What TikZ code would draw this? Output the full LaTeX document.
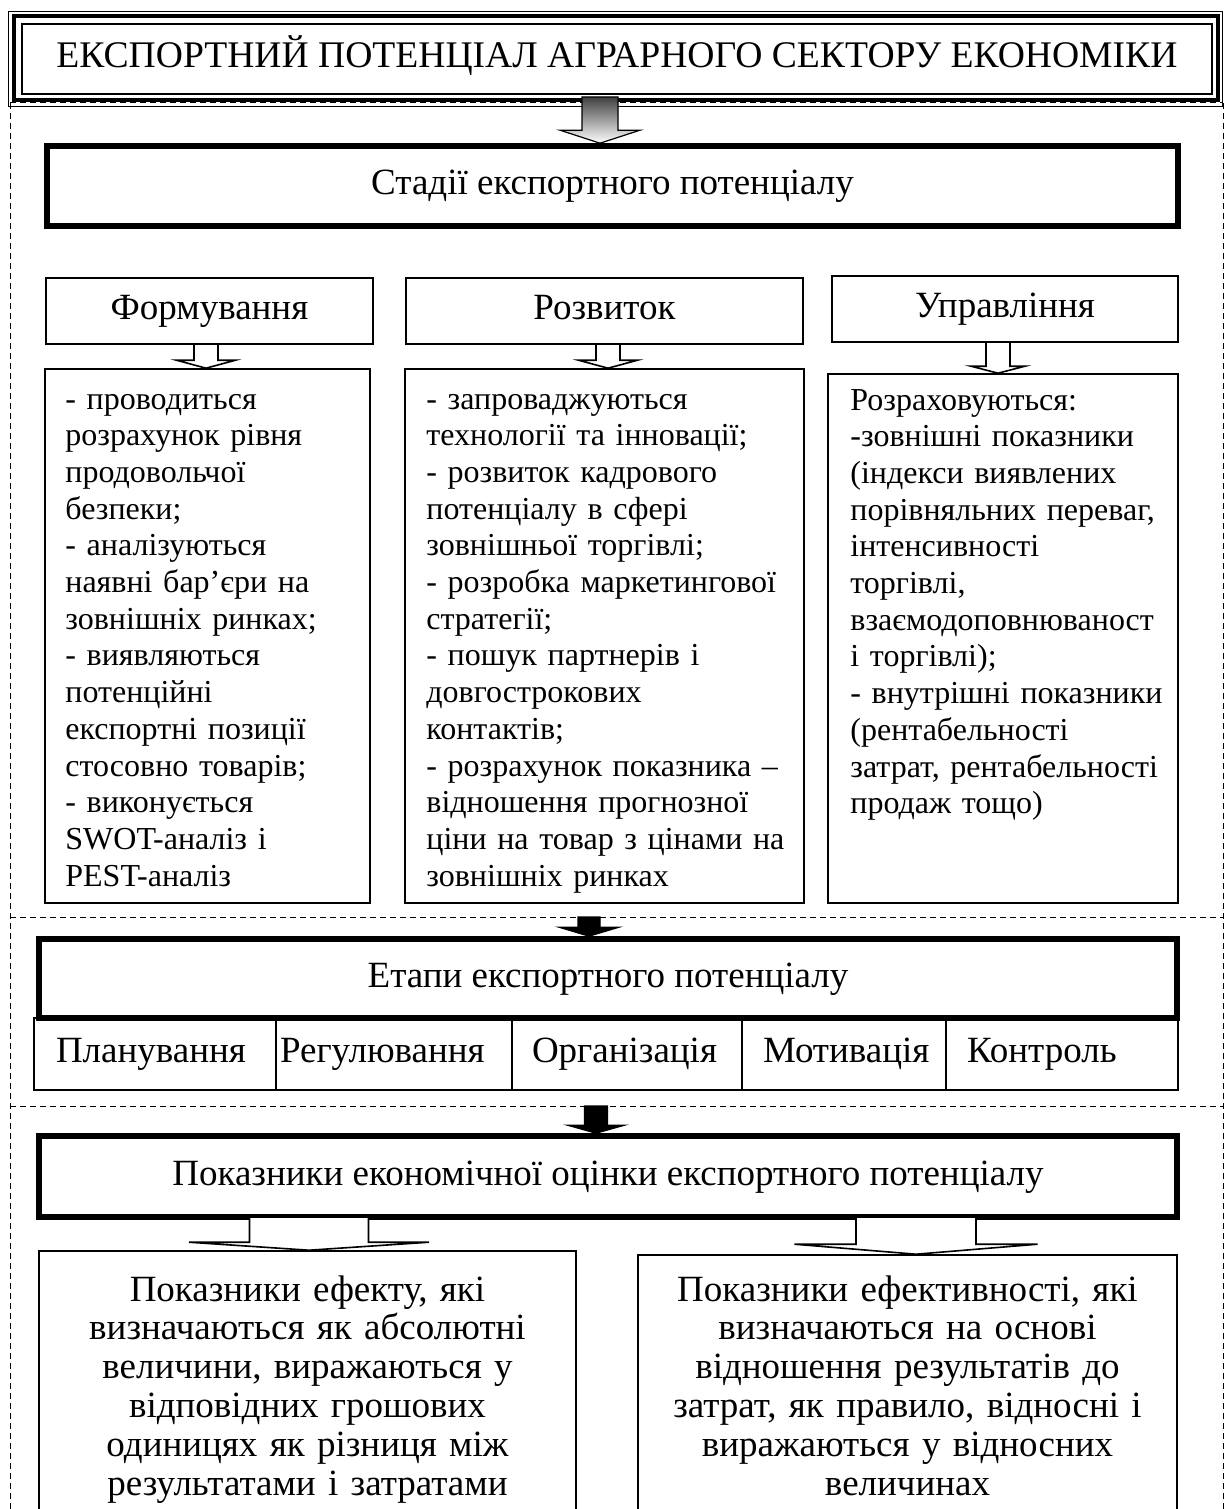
\documentclass[tikz,border=0pt]{standalone}
\usepackage{fontspec}
\setmainfont{Liberation Serif}
\usetikzlibrary{calc}
\newcommand{\bigfont}{\fontsize{18.5pt}{19.4pt}\selectfont}
\newcommand{\listfont}{\fontsize{16pt}{18.35pt}\selectfont}
% block arrow: [style]{start}{tip}{shaft half}{head half}{head length}
\newcommand{\blockarrow}[6][]{%
  \path[#1] let \p1=(#2), \p2=(#3) in
    (\x2-#4,\y1) -- (\x2-#4,\y2+#6) -- (\x2-#5,\y2+#6) -- (\x2,\y2)
    -- (\x2+#5,\y2+#6) -- (\x2+#4,\y2+#6) -- (\x2+#4,\y1) -- cycle;}
\tikzset{
  thinbox/.style={draw, line width=0.8pt, inner sep=0pt, font=\bigfont, text height=12.6pt, text depth=4.1pt},
  thickbox/.style={draw, line width=2.8pt, inner sep=0pt, font=\bigfont, text height=12.6pt, text depth=4.1pt},
  listbox/.style={draw, line width=0.8pt, inner sep=0pt},
  listtext/.style={anchor=base west, align=left, text width=200pt, inner sep=0pt, font=\listfont},
  bottomtext/.style={anchor=base, align=center, text width=268pt, inner sep=0pt, font=\bigfont},
  cellbox/.style={draw, line width=0.7pt, align=left, minimum height=36pt, inner ysep=0pt, font=\bigfont},
  dashframe/.style={line width=0.5pt, dash pattern=on 3pt off 2pt},
  shadearrow/.style={draw, line width=0.6pt, top color=black!75, bottom color=white},
  hollowarrow/.style={draw, fill=white, line width=0.8pt},
  solidarrow/.style={draw, fill=black, line width=0.6pt}
}
\begin{document}
\begin{tikzpicture}[x=0.5pt,y=-0.5pt]
\useasboundingbox (0,0) rectangle (1228,1509);
\clip (0,0) rectangle (1228,1509);

% title with triple frame
\node[draw, line width=0.6pt, minimum width=595pt, minimum height=35pt, inner sep=0pt,
  font=\fontsize{18.8pt}{20pt}\selectfont, text height=12.8pt, text depth=4.2pt] (title) at (617,59)
  {ЕКСПОРТНИЙ ПОТЕНЦІАЛ АГРАРНОГО СЕКТОРУ ЕКОНОМІКИ};
\draw[line width=2pt] ($(title.north west)+(-7,-7)$) rectangle ($(title.south east)+(5,5)$);
\draw[line width=0.6pt] ($(title.north west)+(-13,-12)$) rectangle ($(title.south east)+(10,12)$);

% dashed frame
\draw[dashframe] (10,103) -- (1223,103);
\draw[dashframe] (10,103) -- (10,1600);
\draw[dashframe] (1223,103) -- (1223,1600);
\draw[dashframe] (10,917) -- (1223,917);
\draw[dashframe] (10,1106) -- (1223,1106);

% stages
\node[thickbox, minimum width=565.5pt, minimum height=40pt] (stadii) at (612.5,186) {Стадії експортного потенціалу};
\node[thinbox, minimum width=163.5pt, minimum height=33pt] (form) at (209.5,311) {Формування};
\node[thinbox, minimum width=198.5pt, minimum height=33pt] (rozv) at (604.5,311) {Розвиток};
\node[thinbox, minimum width=173pt, minimum height=33pt] (upr) at (1005,309) {Управління};

\node[listbox, minimum width=162.5pt, minimum height=267pt] (formlist) at (207.5,636) {};
\node[listbox, minimum width=199.5pt, minimum height=267pt] (rozvlist) at (604.5,636) {};
\node[listbox, minimum width=175pt, minimum height=264.5pt] (uprlist) at (1003,638.5) {};

\node[listtext] (formtext) at (65,409) {- проводиться\\
розрахунок рівня\\
продовольчої\\
безпеки;\\
- аналізуються\\
наявні бар’єри на\\
зовнішніх ринках;\\
- виявляються\\
потенційні\\
експортні позиції\\
стосовно товарів;\\
- виконується\\
SWOT-аналіз і\\
PEST-аналіз};
\node[listtext] (rozvtext) at (426,409) {- запроваджуються\\
технології та інновації;\\
- розвиток кадрового\\
потенціалу в сфері\\
зовнішньої торгівлі;\\
- розробка маркетингової\\
стратегії;\\
- пошук партнерів і\\
довгострокових\\
контактів;\\
- розрахунок показника –\\
відношення прогнозної\\
ціни на товар з цінами на\\
зовнішніх ринках};
\node[listtext] (uprtext) at (850,410) {Розраховуються:\\
-зовнішні показники\\
(індекси виявлених\\
порівняльних переваг,\\
інтенсивності\\
торгівлі,\\
взаємодоповнюваност\\
і торгівлі);\\
- внутрішні показники\\
(рентабельності\\
затрат, рентабельності\\
продаж тощо)};

% steps
\node[thickbox, minimum width=569pt, minimum height=39.5pt] (etapy) at (608,978.5) {Етапи експортного потенціалу};
\foreach \l/\r/\pad/\name/\lab in {34/276/11/plan/Планування, 276/512/2/reg/Регулювання,
    512/742/10/org/Організація, 742/946/10.5/mot/Мотивація, 946/1178/10.5/kontr/Контроль} {
  \pgfmathsetmacro\w{(\r-\l)*0.5}
  \pgfmathsetmacro\tw{\w-2*\pad}
  \node[cellbox, minimum width=\w pt, text width=\tw pt, inner xsep=\pad pt] (\name) at ({(\l+\r)/2},1054) {\lab};
}

% indicators
\node[thickbox, minimum width=569pt, minimum height=40.5pt] (pokaz) at (608,1176.5)
  {Показники економічної оцінки експортного потенціалу};
\node[listbox, minimum width=268.5pt, minimum height=200pt] (effect) at (307.5,1451) {};
\node[listbox, minimum width=269.5pt, minimum height=200pt] (effic) at (907.5,1455) {};
\node[bottomtext] (effecttext) at (307.5,1301) {Показники ефекту, які\\
визначаються як абсолютні\\
величини, виражаються у\\
відповідних грошових\\
одиницях як різниця між\\
результатами і затратами};
\node[bottomtext] (effictext) at (907.5,1301) {Показники ефективності, які\\
визначаються на основі\\
відношення результатів до\\
затрат, як правило, відносні і\\
виражаються у відносних\\
величинах};

% arrows
\coordinate (arrA) at (600,97);
\coordinate (arrF) at (206,344);
\coordinate (arrR) at (608,344);
\coordinate (arrU) at (998,342);
\coordinate (arrB) at (589,917);
\coordinate (arrC) at (596,1106);
\coordinate (arrL) at (309,1217);
\coordinate (arrE) at (916,1217);
\blockarrow[shadearrow]{arrA}{stadii.north -| arrA}{9pt}{20pt}{6.5pt}
\blockarrow[hollowarrow]{arrF}{formlist.north -| arrF}{6pt}{14.75pt}{4pt}
\blockarrow[hollowarrow]{arrR}{rozvlist.north -| arrR}{6pt}{14.75pt}{4pt}
\blockarrow[hollowarrow]{arrU}{uprlist.north -| arrU}{6pt}{13.5pt}{3.5pt}
\blockarrow[solidarrow]{arrB}{etapy.north -| arrB}{5.5pt}{15pt}{4.5pt}
\blockarrow[solidarrow]{arrC}{pokaz.north -| arrC}{5.75pt}{14.25pt}{4pt}
\blockarrow[hollowarrow]{arrL}{effect.north -| arrL}{29.75pt}{60pt}{4pt}
\blockarrow[hollowarrow]{arrE}{effic.north -| arrE}{30pt}{60.75pt}{5pt}
\end{tikzpicture}
\end{document}
